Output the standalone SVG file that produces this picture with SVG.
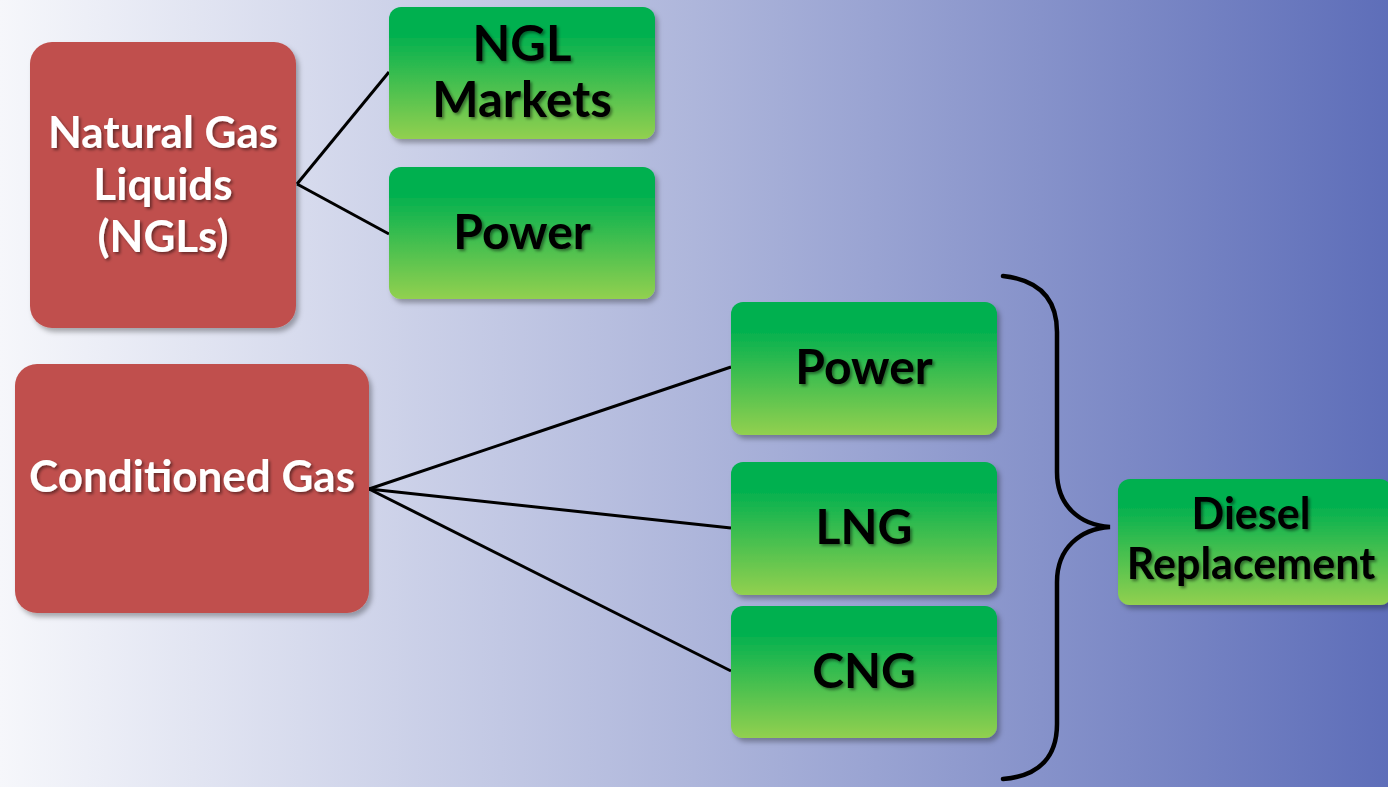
<svg xmlns="http://www.w3.org/2000/svg" width="1388" height="787" viewBox="0 0 1388 787">
<defs>
<linearGradient id="bg" x1="0" y1="0" x2="1" y2="0">
<stop offset="0" stop-color="#F6F7FB"/>
<stop offset="0.5" stop-color="#AEB6DB"/>
<stop offset="1" stop-color="#5E6EB9"/>
</linearGradient>
<linearGradient id="green" x1="0" y1="0" x2="0" y2="1">
<stop offset="0" stop-color="#00B050"/>
<stop offset="0.2" stop-color="#00B050"/>
<stop offset="1" stop-color="#92D050"/>
</linearGradient>
<filter id="boxShadow" x="-10%" y="-10%" width="125%" height="130%">
<feDropShadow dx="3" dy="4" stdDeviation="2.5" flood-color="#000" flood-opacity="0.3"/>
</filter>
<filter id="txtShadow" x="-10%" y="-20%" width="125%" height="150%">
<feDropShadow dx="2" dy="2" stdDeviation="1.5" flood-color="#000" flood-opacity="0.45"/>
</filter>
<style>
.red{fill:#C0504D;filter:url(#boxShadow)}
.grn{fill:url(#green);filter:url(#boxShadow)}
.wt{font-family:Lato,"Liberation Sans",sans-serif;font-weight:bold;fill:#FFFFFF;text-anchor:middle;filter:url(#txtShadow)}
.bt{font-family:Lato,"Liberation Sans",sans-serif;font-weight:bold;fill:#000000;text-anchor:middle;filter:url(#txtShadow)}
.conn{stroke:#000;stroke-width:3;fill:none}
.brace{stroke:#000;stroke-width:4.5;fill:none;stroke-linecap:round}
</style>
</defs>
<rect x="0" y="0" width="1388" height="787" fill="url(#bg)"/>

<g id="connectors">
<line class="conn" x1="297" y1="184" x2="389" y2="72"/>
<line class="conn" x1="297" y1="184" x2="389" y2="234"/>
<line class="conn" x1="369" y1="489" x2="731" y2="367"/>
<line class="conn" x1="369" y1="489" x2="731" y2="528"/>
<line class="conn" x1="369" y1="489" x2="731" y2="671"/>
<path class="brace" d="M1003,276 C1040,280 1057,300 1057,332 L1057,472 C1057,506 1080,525 1110,527 C1080,529 1057,548 1057,582 L1057,724 C1057,756 1040,776 1003,779"/>
</g>

<g id="ngls">
<rect class="red" x="30" y="42" width="266" height="286" rx="22"/>
<text class="wt" font-size="44"><tspan x="163" y="148">Natural Gas</tspan><tspan x="163" y="200">Liquids</tspan><tspan x="163" y="252">(NGLs)</tspan></text>
</g>

<g id="conditioned-gas">
<rect class="red" x="15" y="364" width="354" height="249" rx="22"/>
<text class="wt" font-size="44" x="192" y="492">Conditioned Gas</text>
</g>

<g id="ngl-markets">
<rect class="grn" x="389" y="7" width="266" height="132" rx="12"/>
<text class="bt" font-size="49"><tspan x="522" y="61">NGL</tspan><tspan x="522" y="117">Markets</tspan></text>
</g>

<g id="power-ngl">
<rect class="grn" x="389" y="167" width="266" height="132" rx="12"/>
<text class="bt" font-size="48" x="522" y="249">Power</text>
</g>

<g id="power-gas">
<rect class="grn" x="731" y="302" width="266" height="133" rx="12"/>
<text class="bt" font-size="48" x="864" y="384">Power</text>
</g>

<g id="lng">
<rect class="grn" x="731" y="462" width="266" height="133" rx="12"/>
<text class="bt" font-size="48" x="864" y="544">LNG</text>
</g>

<g id="cng">
<rect class="grn" x="731" y="606" width="266" height="132" rx="12"/>
<text class="bt" font-size="48" x="864" y="688">CNG</text>
</g>

<g id="diesel-replacement">
<rect class="grn" x="1118" y="479" width="274" height="126" rx="12"/>
<text class="bt" font-size="43"><tspan x="1251" y="529">Diesel</tspan><tspan x="1251" y="579">Replacement</tspan></text>
</g>
</svg>
